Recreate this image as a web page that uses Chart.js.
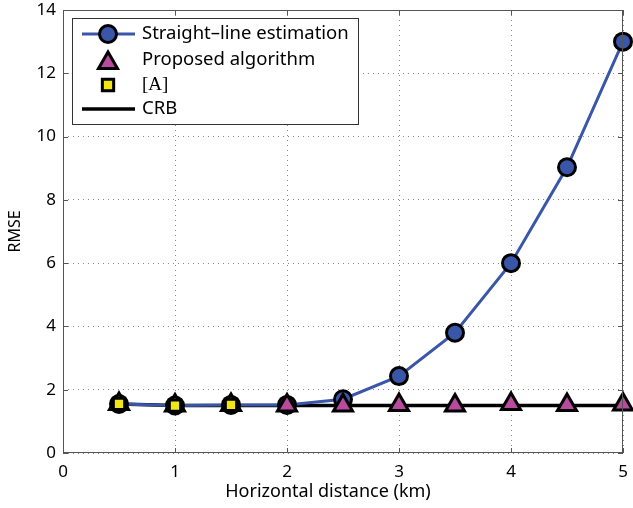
<!DOCTYPE html>
<html>
<head>
<meta charset="utf-8">
<script src="https://cdn.jsdelivr.net/npm/chart.js@4/dist/chart.umd.min.js"></script>
<style>
  html, body { margin: 0; padding: 0; background: #fff; }
  #wrap { width: 633px; height: 508px; }
</style>
</head>
<body>
<div id="wrap"><canvas id="rmseChart" width="633" height="508"></canvas></div>
<script>
// distances in km
const distances = [0.5, 1, 1.5, 2, 2.5, 3, 3.5, 4, 4.5, 5];
const straightLine = [1.55, 1.5, 1.52, 1.52, 1.7, 2.43, 3.8, 6.0, 9.03, 13.0];
const proposed = [1.55, 1.5, 1.52, 1.5, 1.5, 1.52, 1.5, 1.55, 1.52, 1.53];
const refA = [1.55, 1.5, 1.52];
const crb = [1.55, 1.5, 1.5, 1.5, 1.5, 1.5, 1.5, 1.5, 1.5, 1.5];
const xTicks = [0, 1, 2, 3, 4, 5];
const yTicks = [0, 2, 4, 6, 8, 10, 12, 14];
const xTitle = "Horizontal distance (km)";
const yTitle = "RMSE";

const FONT = "'Noto Sans', sans-serif";
const BLUE = "#3a56a8";
const MAGENTA = "#b84b9e";
const YELLOW = "#f2e614";

function pts(xs, ys) {
  return ys.map((y, i) => ({ x: xs[i], y: y }));
}

const ctx = document.getElementById("rmseChart").getContext("2d");

const chart = new Chart(ctx, {
  type: "line",
  data: {
    datasets: [
      {
        label: "Straight\u2013line estimation",
        data: pts(distances, straightLine),
        borderColor: BLUE,
        backgroundColor: BLUE,
        borderWidth: 3,
        tension: 0,
        pointStyle: "circle",
        pointRadius: 8.5,
        pointBorderWidth: 3,
        pointBorderColor: "#000",
        pointBackgroundColor: BLUE,
        clip: 14,
        order: 2,
      },
      {
        label: "Proposed algorithm",
        data: pts(distances, proposed),
        showLine: false,
        pointStyle: "triangle",
        pointRadius: 11,
        pointBorderWidth: 3,
        pointBorderColor: "#000",
        pointBackgroundColor: MAGENTA,
        clip: 14,
        order: 1,
      },
      {
        label: "[A]",
        data: pts(distances, refA),
        showLine: false,
        pointStyle: "rect",
        pointRadius: 8,
        pointBorderWidth: 3,
        pointBorderColor: "#000",
        pointBackgroundColor: YELLOW,
        clip: 14,
        order: 0,
      },
      {
        label: "CRB",
        data: pts(distances, crb),
        borderColor: "#000",
        backgroundColor: "#000",
        borderWidth: 3.5,
        pointRadius: 0,
        order: 3,
      },
    ],
  },
  options: {
    responsive: false,
    animation: false,
    events: [],
    layout: { autoPadding: false, padding: { top: 10, right: 10, left: 0, bottom: 0 } },
    scales: {
      x: {
        type: "linear",
        min: 0,
        max: 5,
        afterFit: (s) => { s.height = 55; s.paddingLeft = 0; s.paddingRight = 0; },
        afterBuildTicks: (s) => { s.ticks = xTicks.map(v => ({ value: v })); },
        ticks: { color: "#000", font: { family: FONT, size: 17 }, padding: 9 },
        grid: { color: "#888", drawTicks: false, lineWidth: 1 },
        border: { display: false, dash: [1, 4] },
      },
      y: {
        min: 0,
        max: 14,
        afterFit: (s) => { s.width = 63; s.paddingTop = 0; s.paddingBottom = 0; },
        afterBuildTicks: (s) => { s.ticks = yTicks.map(v => ({ value: v })); },
        ticks: { color: "#000", font: { family: FONT, size: 17 }, padding: 7 },
        grid: { color: "#888", drawTicks: false, lineWidth: 1 },
        border: { display: false, dash: [1, 4] },
        title: {
          display: true,
          text: yTitle,
          color: "#000",
          font: { family: FONT, size: 16 },
          padding: { top: 6, bottom: 0 },
        },
      },
    },
    plugins: {
      legend: { display: false },
      tooltip: { enabled: false },
    },
  },
  plugins: [
    {
      id: "frameAndTicks",
      afterDatasetsDraw(chart) {
        const c = chart.ctx;
        const a = chart.chartArea;
        c.save();
        c.strokeStyle = "#555";
        c.lineWidth = 1;
        c.strokeRect(a.left + 0.5, a.top + 0.5, a.right - a.left - 1, a.bottom - a.top - 1);
        c.beginPath();
        chart.scales.x.ticks.forEach(t => {
          const x = Math.round(chart.scales.x.getPixelForValue(t.value)) + 0.5;
          c.moveTo(x, a.bottom); c.lineTo(x, a.bottom - 5);
          c.moveTo(x, a.top); c.lineTo(x, a.top + 5);
        });
        chart.scales.y.ticks.forEach(t => {
          const y = Math.round(chart.scales.y.getPixelForValue(t.value)) + 0.5;
          c.moveTo(a.left, y); c.lineTo(a.left + 5, y);
          c.moveTo(a.right, y); c.lineTo(a.right - 5, y);
        });
        c.stroke();

        // x axis title, sits a bit left of centre like the original figure
        c.fillStyle = "#000";
        c.font = "18px " + FONT;
        c.textAlign = "center";
        c.textBaseline = "middle";
        c.fillText(xTitle, 328, 492);
        c.restore();
      },
    },
    {
      id: "matlabLegend",
      afterDraw(chart) {
        const c = chart.ctx;
        const box = { x: 72, y: 18, w: 286, h: 106 };
        c.save();
        c.fillStyle = "#fff";
        c.fillRect(box.x, box.y, box.w, box.h);
        c.strokeStyle = "#333";
        c.lineWidth = 1;
        c.strokeRect(box.x + 0.5, box.y + 0.5, box.w, box.h);
        const rowsY = [34, 60, 85, 109];
        const x0 = 82, x1 = 135, xm = 108, tx = 142;
        chart.data.datasets.forEach((ds, i) => {
          const y = rowsY[i];
          if (ds.showLine !== false) {
            c.strokeStyle = ds.borderColor;
            c.lineWidth = ds.borderWidth;
            c.beginPath(); c.moveTo(x0, y); c.lineTo(x1, y); c.stroke();
          }
          if (ds.pointRadius > 0) {
            c.fillStyle = ds.pointBackgroundColor;
            c.strokeStyle = ds.pointBorderColor;
            c.lineWidth = ds.pointBorderWidth;
            Chart.helpers.drawPoint(c, {
              pointStyle: ds.pointStyle,
              radius: ds.pointRadius,
              borderWidth: ds.pointBorderWidth,
              rotation: 0,
            }, xm, ds.pointStyle === "triangle" ? y + 3 : y);
          }
          c.fillStyle = "#000";
          c.textBaseline = "middle";
          c.textAlign = "left";
          c.font = ds.label === "[A]" ? "19px 'Liberation Serif', serif" : "18.5px " + FONT;
          c.fillText(ds.label, tx, y);
        });
        c.restore();
      },
    },
  ],
});
</script>
</body>
</html>
